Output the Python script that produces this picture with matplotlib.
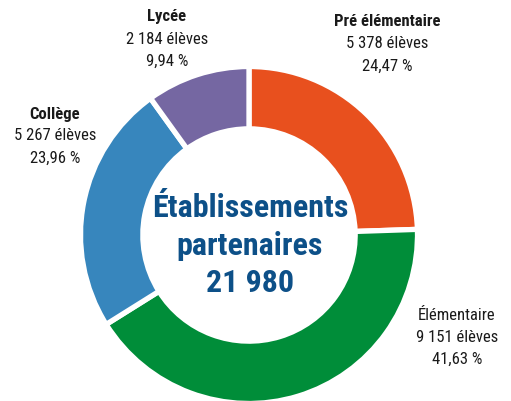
import matplotlib.pyplot as plt
import matplotlib as mpl

mpl.rcParams['font.family'] = ['Roboto Condensed', 'DejaVu Sans']

# données
categories = ['Pré élémentaire', 'Élémentaire', 'Collège', 'Lycée']
eleves = [5378, 9151, 5267, 2184]
eleves_txt = ['5 378 élèves', '9 151 élèves', '5 267 élèves', '2 184 élèves']
pourcent_txt = ['24,47 %', '41,63 %', '23,96 %', '9,94 %']
couleurs = ['#E8501E', '#008D39', '#3786BD', '#7567A2']
titre_centre = ['Établissements', 'partenaires', '21 980']

W, H = 511, 401
fig = plt.figure(figsize=(W / 100, H / 100), dpi=100)
ax = fig.add_axes([0, 0, 1, 1])

cx, cy, r = 249, H - 235, 168.5
ax.pie(eleves, colors=couleurs, startangle=90, counterclock=False,
       center=(cx, cy), radius=r,
       wedgeprops=dict(width=r * 0.37, edgecolor='white', linewidth=3.8))

ax.set_xlim(0, W)
ax.set_ylim(0, H)
ax.set_aspect('equal')
ax.axis('off')

# étiquettes (x centre, y du haut en pixels)
pos = [(387, 22), (457, 315), (55, 114), (167, 17)]
gras = [True, False, True, True]
for (x, y), nom, nb, pc, g in zip(pos, categories, eleves_txt, pourcent_txt, gras):
    ax.text(x, H - y, nom, ha='center', va='center', fontsize=12,
            fontweight='bold' if g else 'normal', color='#1a1a1a')
    ax.text(x, H - y - 22, nb, ha='center', va='center', fontsize=12, color='#1a1a1a')
    ax.text(x, H - y - 44, pc, ha='center', va='center', fontsize=12, color='#1a1a1a')

for ty, t in zip([208, 246, 283], titre_centre):
    ax.text(cx + 1, H - ty, t, ha='center', va='center', fontsize=23,
            fontweight='bold', color='#0D5088')

fig.savefig('out.png', dpi=100)
